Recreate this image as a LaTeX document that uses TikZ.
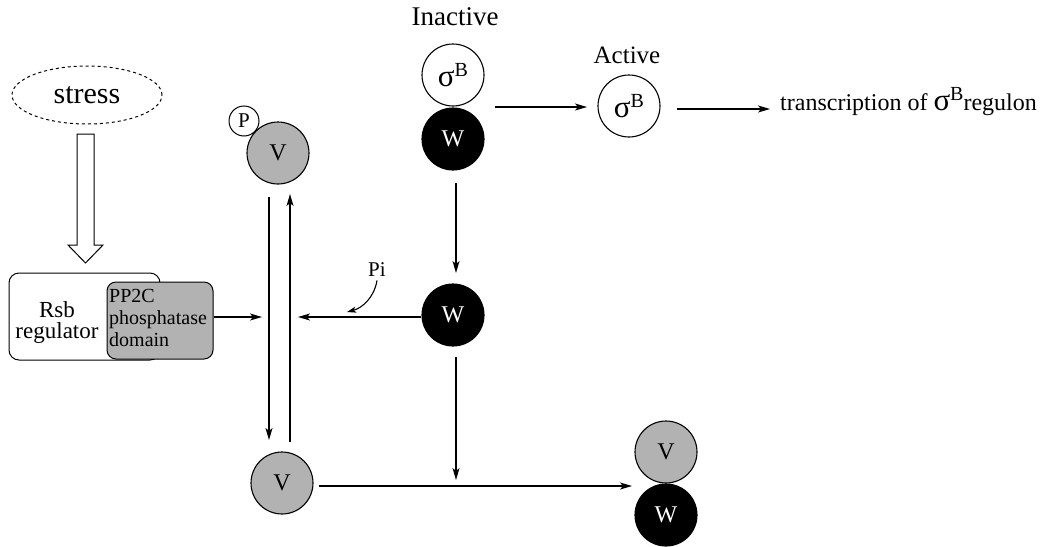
\documentclass[tikz,border=0pt]{standalone}
\usepackage{fontspec}
\setmainfont{Liberation Serif}
\usetikzlibrary{arrows.meta,shapes.geometric,calc}
\newcommand{\sigB}{{\fontsize{31}{31}\selectfont σ}\raisebox{10pt}{\fontsize{20}{20}\selectfont B}}
\begin{document}
\begin{tikzpicture}[x=1pt,y=-1pt,
  mol/.style={circle,draw,line width=1.1pt,minimum size=62pt,inner sep=0pt,font=\fontsize{24}{24}\selectfont},
  vmol/.style={mol,fill=black!30},
  wmol/.style={mol,fill=black,text=white},
  smol/.style={mol,fill=white},
  arr/.style={line width=1.4pt,-{Stealth[length=12pt,width=7pt,inset=3pt]}},
  lbl/.style={font=\fontsize{25}{28}\selectfont}
]
\useasboundingbox (0,0) rectangle (1062,546);
% stress
\node[ellipse,draw,dashed,line width=1pt,minimum width=150pt,minimum height=58pt,font=\fontsize{30}{30}\selectfont] (stress) at (87,95) {stress};
\draw[line width=1pt,fill=white] (77,134) -- (94,134) -- (94,245) -- (103,245) -- (85.5,263) -- (68,245) -- (77,245) -- cycle;
% Rsb regulator
\node[draw,rounded corners=10pt,line width=1pt,minimum width=151pt,minimum height=87pt] (rsb) at (84.5,316.5) {};
\node[align=center,inner sep=0pt,font=\fontsize{23}{21}\selectfont] (rsbt) at (57,322) {Rsb\\regulator};
\node[draw,rounded corners=9pt,line width=1pt,fill=black!30,minimum width=106pt,minimum height=77pt] (pp2c) at (160,320.5) {};
\node[anchor=west,align=left,inner sep=0pt,font=\fontsize{20}{22}\selectfont] (pp2ct) at (109,318) {PP2C\\phosphatase\\domain};
% V-P
\node[vmol] (pv) at (278,153) {V};
\node[circle,draw,fill=white,line width=1pt,minimum size=30pt,inner sep=0pt,font=\fontsize{21}{21}\selectfont] (p) at (244,121) {P};
% V bottom
\node[vmol] (vb) at (282,483) {V};
% sigma-W inactive
\node[font=\fontsize{27}{28}\selectfont] (inact) at (455,17) {Inactive};
\node[smol] (sI) at (453,75) {\sigB};
\node[wmol] (wI) at (453,139) {W};
% active sigma
\node[lbl] (act) at (627,55) {Active};
\node[smol] (sA) at (629,106) {\sigB};
\node[font=\fontsize{24}{28}\selectfont,anchor=west,inner sep=0pt] (trans) at (780,102) {transcription of \sigB regulon};
% free W
\node[wmol] (w2) at (453,315) {W};
% V-W complex
\node[vmol] (vc) at (666,452) {V};
\node[wmol] (wc) at (666,515) {W};
% Pi
\node[font=\fontsize{21}{21}\selectfont] (pi) at (377,270) {Pi};
% coordinates
\coordinate (dl1) at (269,197);
\coordinate (dl2) at (269,440);
\coordinate (ul1) at (290,442);
\coordinate (ul2) at (290,194);
\coordinate (jl) at (262,317);
\coordinate (jr) at (298,317);
\coordinate (pie) at (347,312);
\coordinate (j1) at (495,107);
\coordinate (j2) at (587,107);
\coordinate (j3a) at (677,109);
\coordinate (j3) at (770,109);
\coordinate (cw1) at (456,183);
\coordinate (cw2) at (456,273);
\coordinate (cw3) at (456,357);
\coordinate (cw4) at (456,480);
\coordinate (h1) at (319,486);
\coordinate (h2) at (632,486);
% arrows
\draw[arr] (dl1) -- (dl2);
\draw[arr] (ul1) -- (ul2);
\draw[arr] (pp2c.east |- jl) -- (jl);
\draw[arr] (w2.west |- jr) -- (jr);
\draw[line width=1.1pt,-{Stealth[length=9pt,width=6pt,inset=2pt]}] (pi.south) .. controls (374,298) and (362,308) .. (pie);
\draw[arr] (cw1) -- (cw2);
\draw[arr] (cw3) -- (cw4);
\draw[arr] (h1) -- (h2);
\draw[arr] (j1) -- (j2);
\draw[arr] (j3a) -- (j3);
\end{tikzpicture}
\end{document}
